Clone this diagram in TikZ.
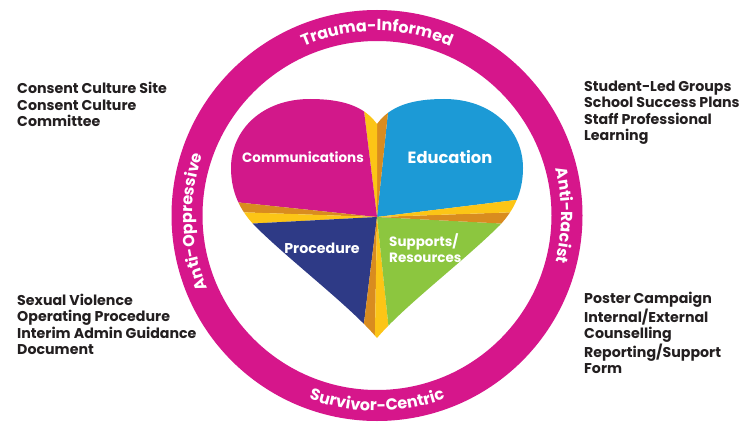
\documentclass[tikz,border=0pt]{standalone}
\usepackage{fontspec}
\setmainfont{Poppins}
\usetikzlibrary{decorations.text}
\definecolor{ringmag}{RGB}{214,22,139}
\definecolor{commag}{RGB}{210,24,138}
\definecolor{edublue}{RGB}{28,154,214}
\definecolor{procnavy}{RGB}{46,58,134}
\definecolor{suppgreen}{RGB}{140,198,63}
\definecolor{wedgeyellow}{RGB}{252,197,22}
\definecolor{wedgeorange}{RGB}{217,140,31}
\definecolor{ink}{RGB}{35,31,32}
\newcommand\heartoutline{%
  (377,300) .. controls (364,318) and (342,325) .. (310,325)
  .. controls (262,325) and (231,294) .. (231,256)
  .. controls (231,232) and (240,214) .. (254,199)
  .. controls (290,163) and (350,118) .. (377,86)
  .. controls (404,118) and (464,163) .. (500,199)
  .. controls (514,214) and (523,232) .. (523,256)
  .. controls (523,294) and (492,325) .. (444,325)
  .. controls (412,325) and (390,318) .. (377,300) -- cycle}
\newcommand\ringfont{\bfseries\fontsize{16}{16}\selectfont}
\begin{document}
\begin{tikzpicture}[x=1pt,y=1pt,
  corner/.style={anchor=west, align=left, inner sep=0pt, text=ink,
    font=\bfseries\fontsize{14.2}{16.5}\selectfont},
  slicelabel/.style={text=white, inner sep=0pt,
    font=\bfseries\fontsize{13.5}{16}\selectfont},
  ringword/.style={decorate, decoration={text along path, text align=center,
    text color=white}}]
\useasboundingbox (0,0) rectangle (744,424);
\fill[white] (0,0) rectangle (744,424);

% outer ring
\coordinate (rc) at (377,208.5);
\draw[ringmag, line width=31pt] (rc) circle[radius=190];

% ring values
\path[ringword, decoration={text={|\ringfont|Trauma-Informed}}]
  (rc) ++(130:184.5) arc[start angle=130, end angle=50, radius=184.5];
\path[ringword, decoration={text={|\ringfont|Survivor-Centric}}]
  (rc) ++(230:195.5) arc[start angle=230, end angle=310, radius=195.5];
\path[ringword, decoration={text={|\ringfont|Anti-Oppressive}}]
  (rc) ++(212:184.5) arc[start angle=212, end angle=152, radius=184.5];
\path[ringword, decoration={text={|\ringfont|Anti-Racist}}]
  (rc) ++(30:184.5) arc[start angle=30, end angle=-30, radius=184.5];

% heart split into four quarters with thin wedges between them
\coordinate (hc) at (377,207);
\begin{scope}
  \clip \heartoutline;
  \fill[edublue]     (hc) -- ++(7:220)   arc[start angle=7,   end angle=84,  radius=220] -- cycle;
  \fill[wedgeorange] (hc) -- ++(84:220)  arc[start angle=84,  end angle=90,  radius=220] -- cycle;
  \fill[wedgeyellow] (hc) -- ++(90:220)  arc[start angle=90,  end angle=97,  radius=220] -- cycle;
  \fill[commag]      (hc) -- ++(97:220)  arc[start angle=97,  end angle=174, radius=220] -- cycle;
  \fill[wedgeorange] (hc) -- ++(174:220) arc[start angle=174, end angle=178, radius=220] -- cycle;
  \fill[wedgeyellow] (hc) -- ++(178:220) arc[start angle=178, end angle=183, radius=220] -- cycle;
  \fill[procnavy]    (hc) -- ++(183:220) arc[start angle=183, end angle=263, radius=220] -- cycle;
  \fill[wedgeorange] (hc) -- ++(263:220) arc[start angle=263, end angle=269, radius=220] -- cycle;
  \fill[wedgeyellow] (hc) -- ++(269:220) arc[start angle=269, end angle=276, radius=220] -- cycle;
  \fill[suppgreen]   (hc) -- ++(276:220) arc[start angle=276, end angle=357, radius=220] -- cycle;
  \fill[wedgeorange] (hc) -- ++(357:220) arc[start angle=357, end angle=362, radius=220] -- cycle;
  \fill[wedgeyellow] (hc) -- ++(2:220)   arc[start angle=2,   end angle=7,   radius=220] -- cycle;
\end{scope}

% quarter labels
\node[slicelabel] (comm) at (303,267) {Communications};
\node[slicelabel, font=\bfseries\fontsize{16.3}{16}\selectfont] (edu) at (450,267) {Education};
\node[slicelabel, font=\bfseries\fontsize{14.2}{16}\selectfont] (proc) at (322,176) {Procedure};
\node[slicelabel, anchor=west, align=left] (supp) at (389,175.5) {Supports/\\Resources};

% corner lists
\node[corner] (tl) at (17,319.5) {Consent Culture Site\\Consent Culture\\Committee};
\node[corner] (tr) at (584,311.5) {Student-Led Groups\\School Success Plans\\Staff Professional\\Learning};
\node[corner] (bl) at (17,99.5) {Sexual Violence\\Operating Procedure\\Interim Admin Guidance\\Document};
\node[corner] (br) at (584,91) {Poster Campaign\\Internal/External\\Counselling\\Reporting/Support\\Form};
\end{tikzpicture}
\end{document}
